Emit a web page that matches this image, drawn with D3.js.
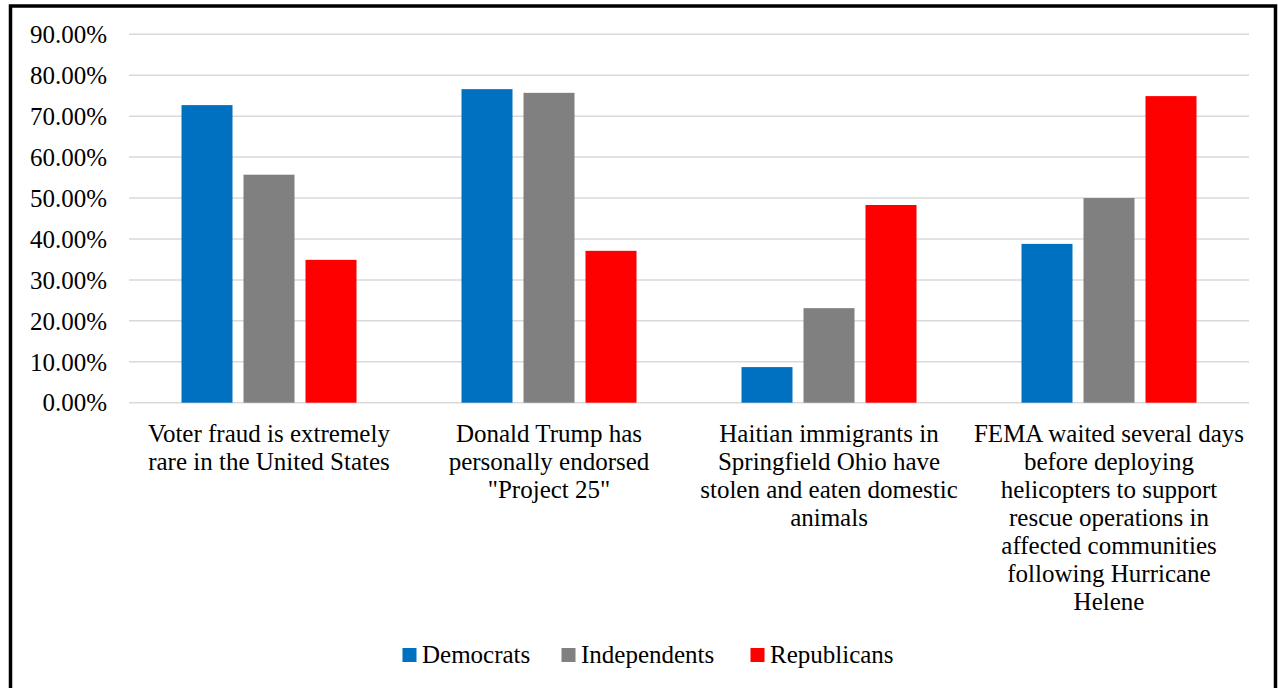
<!DOCTYPE html>
<html>
<head>
<meta charset="utf-8">
<script src="https://cdn.jsdelivr.net/npm/d3@7"></script>
<style>
  html, body { margin: 0; padding: 0; background: #fff; overflow: hidden; }
  svg { display: block; }
  text { font-family: "Liberation Serif", "Times New Roman", serif; fill: #000; }
</style>
</head>
<body>
<svg id="chart" width="1278" height="688"></svg>
<script>
// Survey statements (line breaks mark how the axis labels wrap)
const categories = [
  "Voter fraud is extremely\nrare in the United States",
  "Donald Trump has\npersonally endorsed\n\"Project 25\"",
  "Haitian immigrants in\nSpringfield Ohio have\nstolen and eaten domestic\nanimals",
  "FEMA waited several days\nbefore deploying\nhelicopters to support\nrescue operations in\naffected communities\nfollowing Hurricane\nHelene"
];
const seriesNames = ["Democrats", "Independents", "Republicans"];
// Share answering "true", per statement
const democrats    = [0.727, 0.766, 0.087, 0.388];
const independents = [0.557, 0.757, 0.231, 0.500];
const republicans  = [0.349, 0.371, 0.483, 0.749];
const seriesColors = ["#0070C0", "#808080", "#FF0000"];
const yTicks = [0, 0.1, 0.2, 0.3, 0.4, 0.5, 0.6, 0.7, 0.8, 0.9];

const seriesValues = [democrats, independents, republicans];

const svg = d3.select("#chart");
const W = 1278, H = 688;

// Plot area
const plot = { left: 129, right: 1249, top: 34.3, bottom: 402.7 };

const y = d3.scaleLinear().domain([0, 0.9]).range([plot.bottom, plot.top]);

const x0 = d3.scaleBand()
  .domain(d3.range(categories.length))
  .range([plot.left, plot.right])
  .paddingInner(105 / 280)
  .paddingOuter(105 / 280 / 2);

const x1 = d3.scaleBand()
  .domain(d3.range(seriesNames.length))
  .range([0, x0.bandwidth()])
  .paddingInner(11 / 62);

const fmt = d3.format(".2%");

// Gridlines
svg.append("g")
  .selectAll("line")
  .data(yTicks)
  .join("line")
  .attr("x1", plot.left)
  .attr("x2", plot.right)
  .attr("y1", d => y(d))
  .attr("y2", d => y(d))
  .attr("stroke", "#d9d9d9")
  .attr("stroke-width", 1.5);

// Y axis labels
const yAxis = d3.axisLeft(y)
  .tickValues(yTicks)
  .tickFormat(fmt)
  .tickSize(0)
  .tickPadding(0);

const yg = svg.append("g")
  .attr("transform", `translate(107,0)`)
  .call(yAxis);
yg.select(".domain").remove();
yg.selectAll("text")
  .attr("font-size", 25)
  .attr("font-family", "'Liberation Serif', serif")
  .attr("fill", "#000")
  .attr("dy", "0.33em");

// Bars
const groups = svg.append("g")
  .selectAll("g")
  .data(categories.map((c, i) => i))
  .join("g")
  .attr("transform", i => `translate(${x0(i)},0)`);

groups.selectAll("rect")
  .data(i => seriesValues.map((vals, s) => ({ s, v: vals[i] })))
  .join("rect")
  .attr("x", d => x1(d.s))
  .attr("width", x1.bandwidth())
  .attr("y", d => y(d.v))
  .attr("height", d => y(0) - y(d.v))
  .attr("fill", d => seriesColors[d.s]);

// Category labels (wrapped)
const xAxis = d3.axisBottom(x0)
  .tickSize(0)
  .tickPadding(0)
  .tickFormat(() => "");
const xg = svg.append("g")
  .attr("transform", `translate(0,${plot.bottom})`)
  .call(xAxis);
xg.select(".domain").remove();
xg.selectAll(".tick").each(function (i) {
  const t = d3.select(this).select("text")
    .attr("font-size", 25)
    .attr("font-family", "'Liberation Serif', serif")
    .attr("fill", "#000")
    .attr("text-anchor", "middle")
    .attr("y", 0)
    .attr("dy", null)
    .text(null);
  categories[i].split("\n").forEach((line, k) => {
    t.append("tspan")
      .attr("x", 0)
      .attr("y", 39 + k * 28)
      .text(line);
  });
});

// Legend
const legendItems = [
  { name: seriesNames[0], x: 402.5 },
  { name: seriesNames[1], x: 561.5 },
  { name: seriesNames[2], x: 750.5 }
];
const lg = svg.append("g");
legendItems.forEach((it, s) => {
  lg.append("rect")
    .attr("x", it.x)
    .attr("y", 648)
    .attr("width", 14)
    .attr("height", 14)
    .attr("fill", seriesColors[s]);
  lg.append("text")
    .attr("x", it.x + 19.5)
    .attr("y", 663)
    .attr("font-size", 25)
    .text(it.name);
});

// Chart area border
svg.append("rect")
  .attr("x", 10.5)
  .attr("y", 6)
  .attr("width", 1265)
  .attr("height", 720)
  .attr("fill", "none")
  .attr("stroke", "#000")
  .attr("stroke-width", 3.5);
</script>
</body>
</html>
